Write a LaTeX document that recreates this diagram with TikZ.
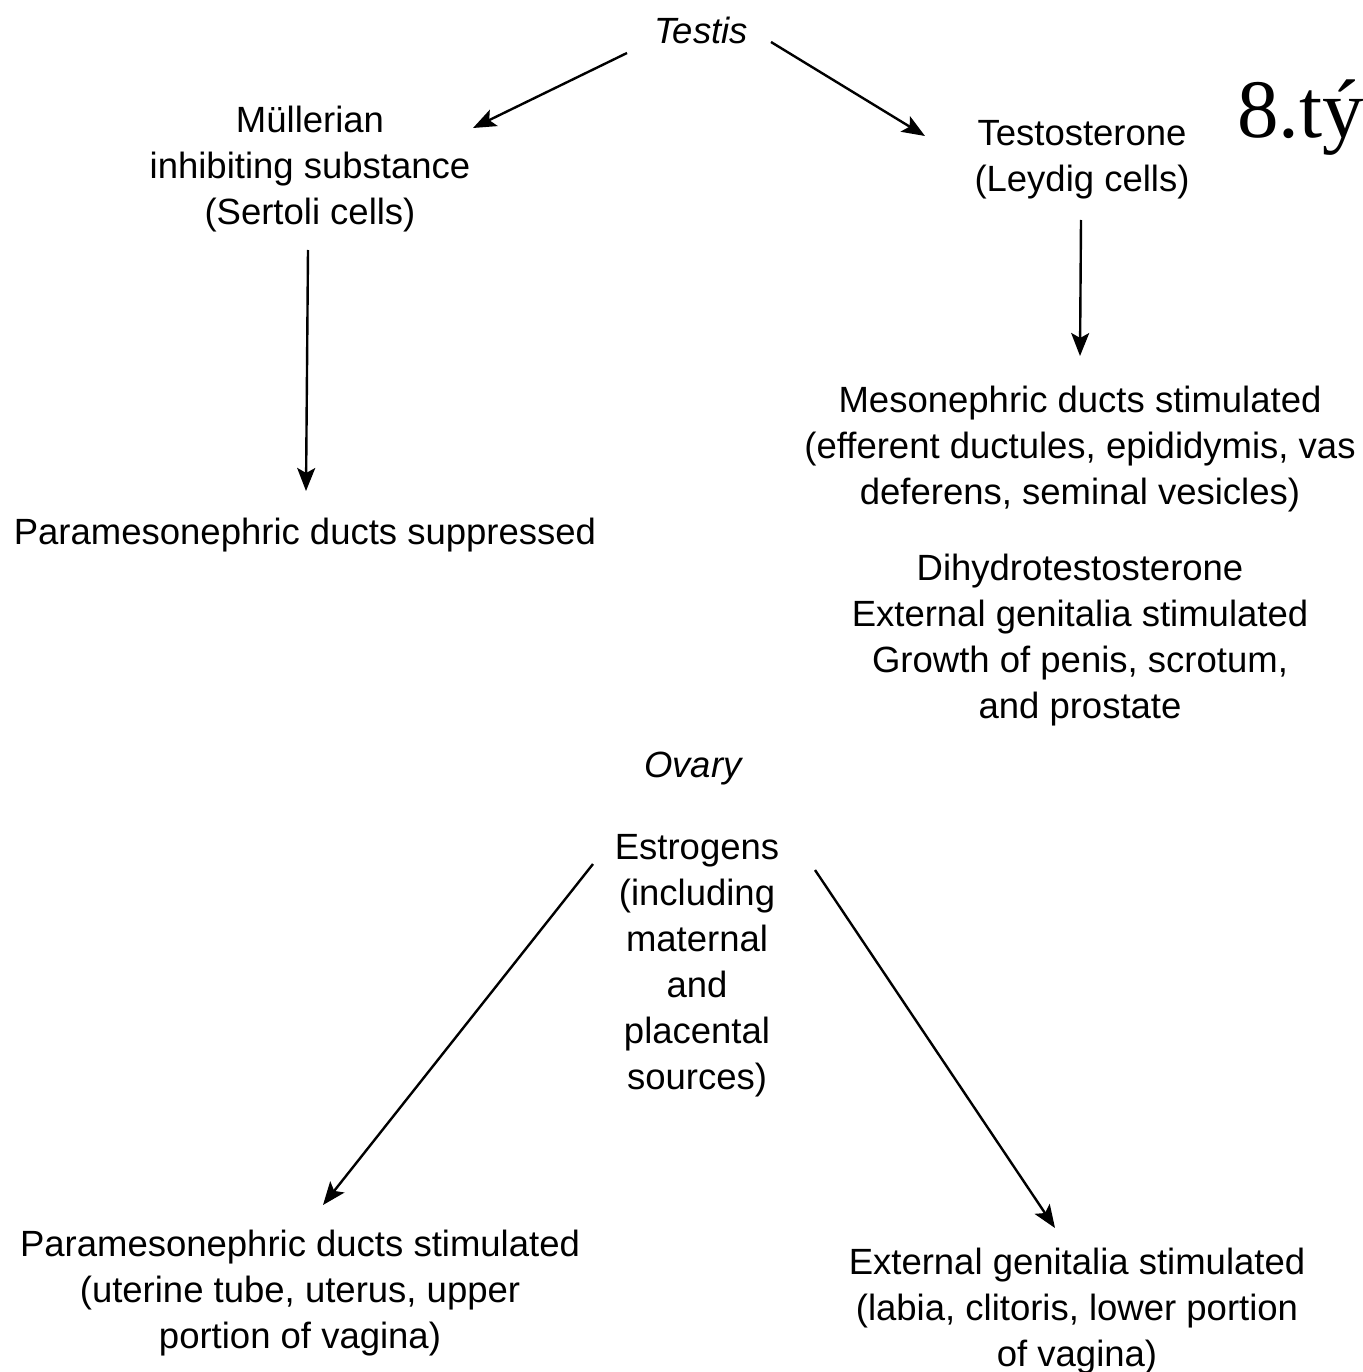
\documentclass[tikz,border=0pt]{standalone}
\usepackage{fontspec}
\setmainfont{Liberation Sans}
\newfontfamily\timesfont{Liberation Serif}
\usetikzlibrary{arrows.meta}
\begin{document}
\begin{tikzpicture}[x=1pt,y=-1pt,
  lbl/.style={align=center,inner sep=0pt,font=\fontsize{36.5}{46}\selectfont},
  organ/.style={lbl,font=\fontsize{36.5}{46}\selectfont\itshape},
  arr/.style={line width=2.4pt,-{Stealth[length=23pt,width=18pt,inset=5pt]}}]
\useasboundingbox[fill=white] (0,0) rectangle (1362,1372);

% male pathway
\node[organ] (testis) at (701,30) {Testis};
\node[lbl] (mis) at (310,169) {Müllerian\\inhibiting substance\\(Sertoli cells)};
\node[lbl] (testo) at (1082,160) {Testosterone\\(Leydig cells)};
\node[inner sep=0pt,anchor=base west,font=\fontsize{83}{90}\selectfont\timesfont] (week) at (1237,138) {8.tý};
\node[lbl] (parasup) at (305,535) {Paramesonephric ducts suppressed};
\node[lbl] (meso) at (1080,449) {Mesonephric ducts stimulated\\(efferent ductules, epididymis, vas\\deferens, seminal vesicles)};
\node[lbl] (dht) at (1080,640) {Dihydrotestosterone\\External genitalia stimulated\\Growth of penis, scrotum,\\and prostate};

% female pathway
\node[organ] (ovary) at (693,769) {Ovary};
\node[lbl] (estro) at (697,966) {Estrogens\\(including\\maternal\\and\\placental\\sources)};
\node[lbl] (parastim) at (300,1293) {Paramesonephric ducts stimulated\\(uterine tube, uterus, upper\\portion of vagina)};
\node[lbl] (extgen) at (1077,1311) {External genitalia stimulated\\(labia, clitoris, lower portion\\of vagina)};

% arrow end points
\coordinate (tL) at (627,53);
\coordinate (misIn) at (473,128);
\coordinate (tR) at (771,42);
\coordinate (testoIn) at (925,136);
\coordinate (misOut) at (308,250);
\coordinate (supIn) at (306,491);
\coordinate (testoOut) at (1081,220);
\coordinate (mesoIn) at (1080,356);
\coordinate (eL) at (593,864);
\coordinate (psIn) at (323,1205);
\coordinate (eR) at (815,870);
\coordinate (egIn) at (1055,1228);

\draw[arr] (tL) -- (misIn);
\draw[arr] (tR) -- (testoIn);
\draw[arr] (misOut) -- (supIn);
\draw[arr] (testoOut) -- (mesoIn);
\draw[arr] (eL) -- (psIn);
\draw[arr] (eR) -- (egIn);
\end{tikzpicture}
\end{document}
